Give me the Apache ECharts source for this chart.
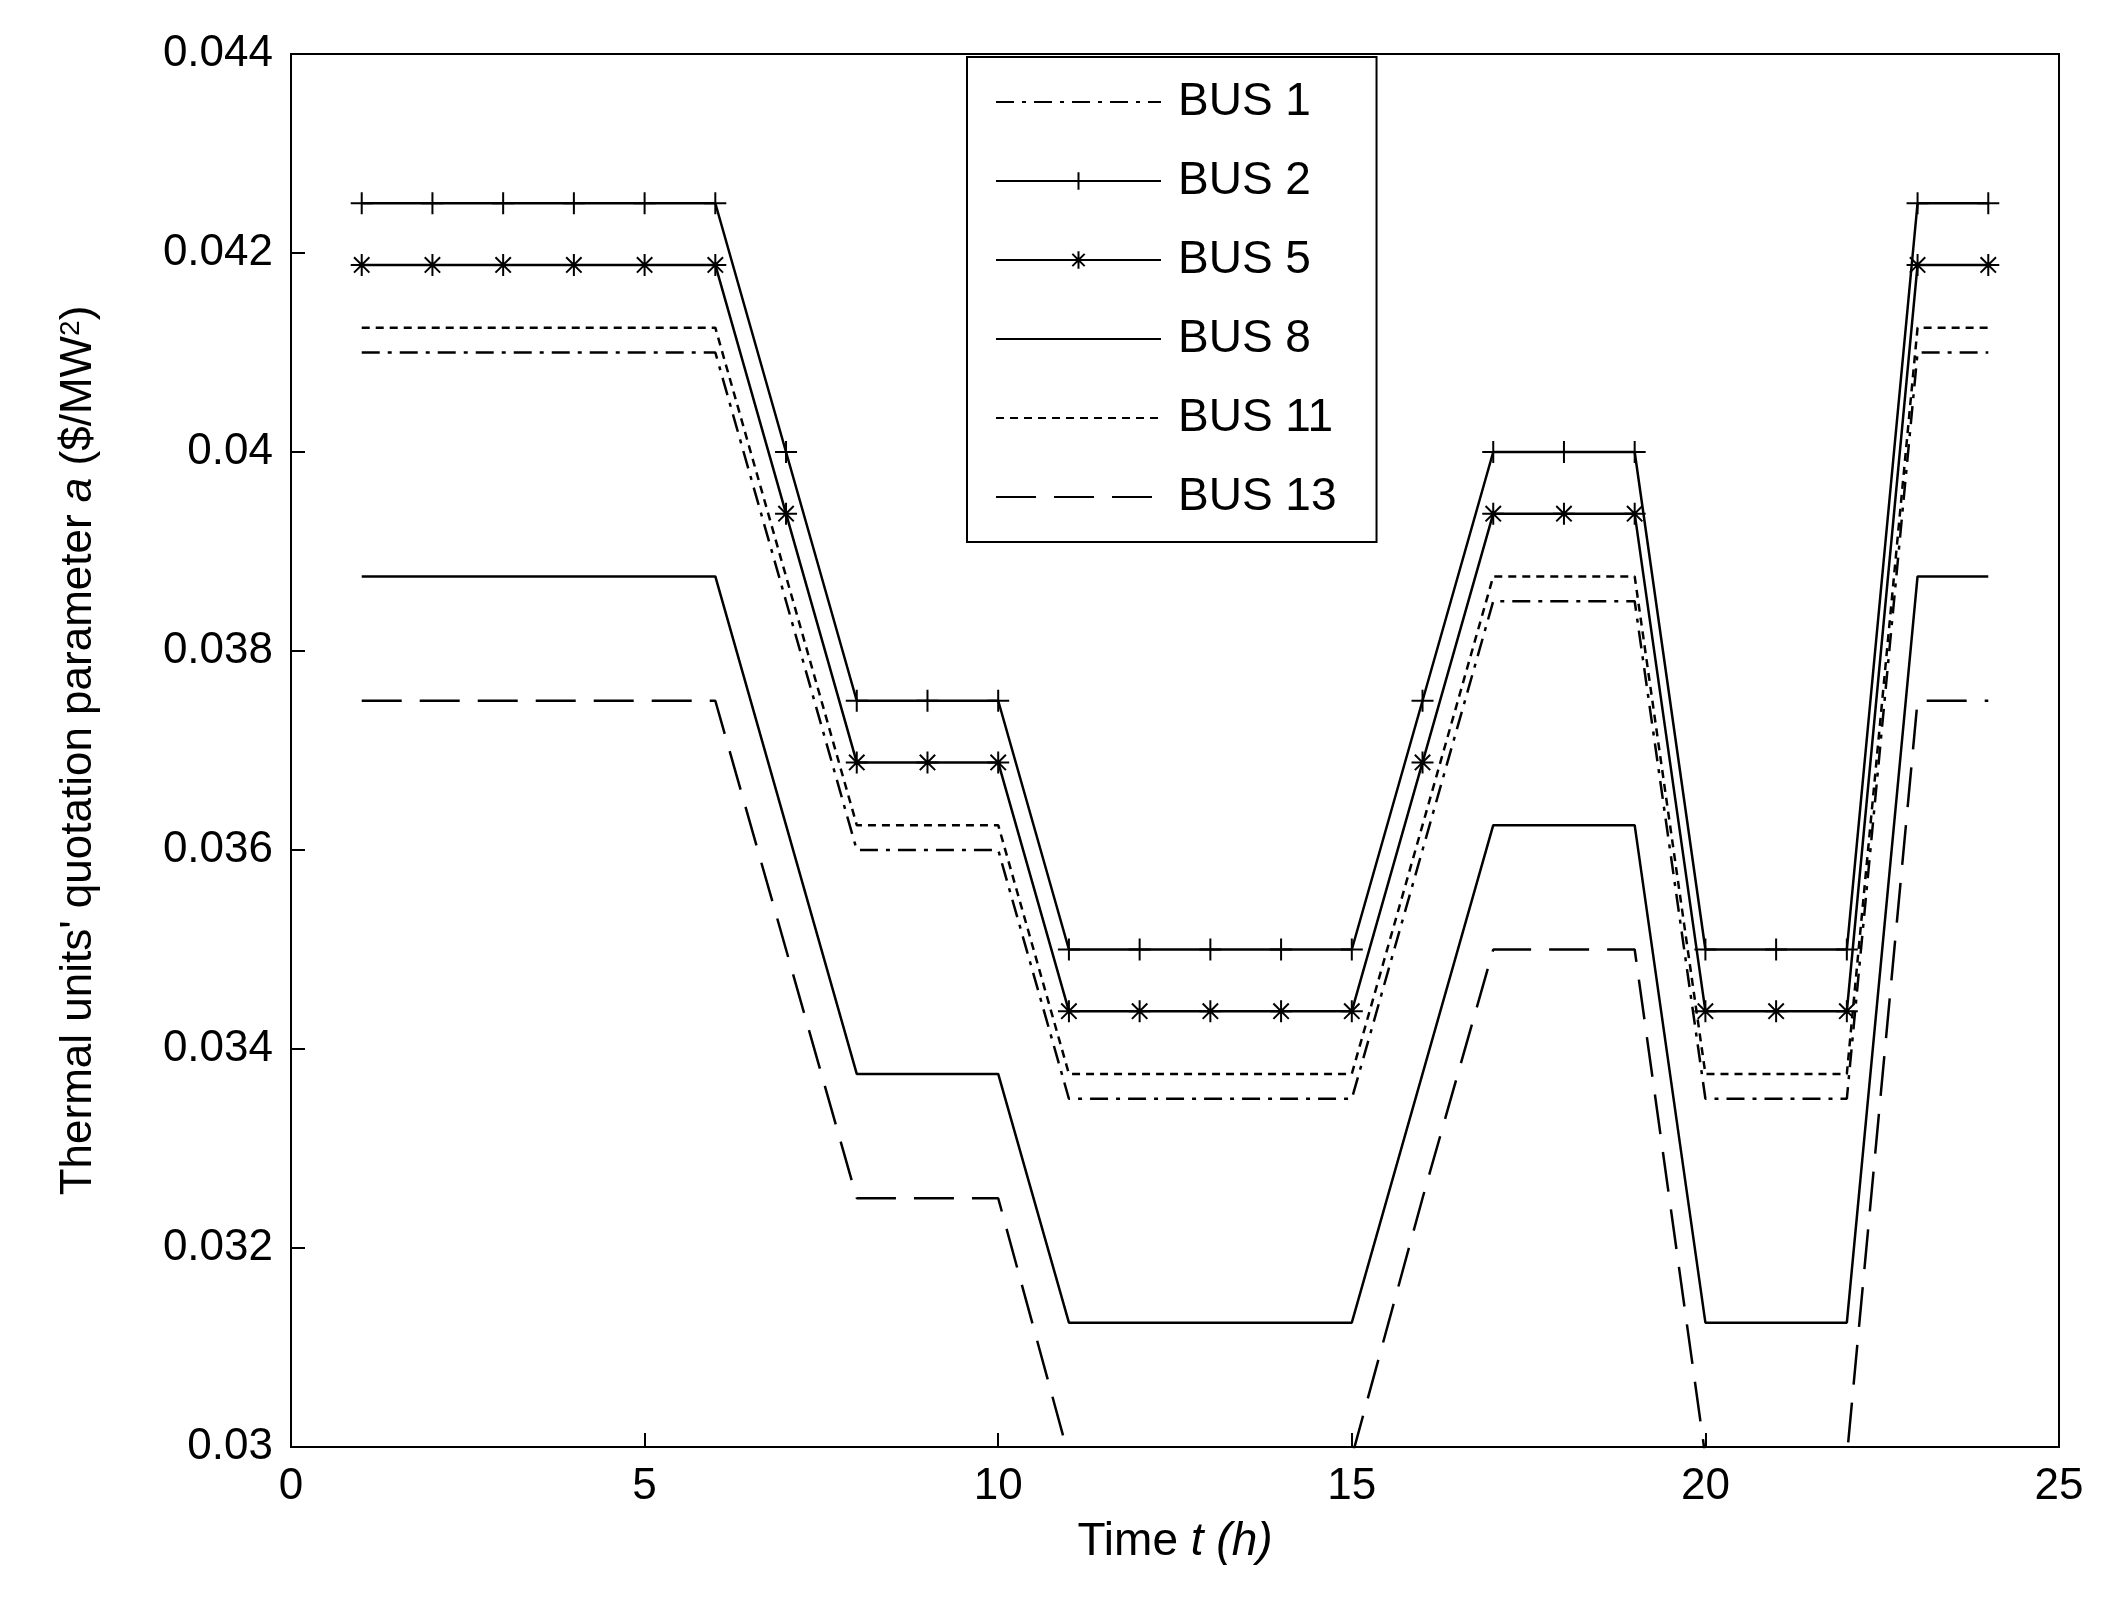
<!DOCTYPE html>
<html>
<head>
<meta charset="utf-8">
<script src="https://cdn.jsdelivr.net/npm/echarts@6/dist/echarts.min.js"></script>
<style>html,body{margin:0;padding:0;background:#fff}#main{width:2113px;height:1618px}</style>
</head>
<body>
<div id="main"></div>
<script>
var hours = [1,2,3,4,5,6,7,8,9,10,11,12,13,14,15,16,17,18,19,20,21,22,23,24];
var bus1  = [0.0410,0.0410,0.0410,0.0410,0.0410,0.0410,0.0385,0.0360,0.0360,0.0360,0.0335,0.0335,0.0335,0.0335,0.0335,0.0360,0.0385,0.0385,0.0385,0.0335,0.0335,0.0335,0.0410,0.0410];
var bus2  = [0.0425,0.0425,0.0425,0.0425,0.0425,0.0425,0.0400,0.0375,0.0375,0.0375,0.0350,0.0350,0.0350,0.0350,0.0350,0.0375,0.0400,0.0400,0.0400,0.0350,0.0350,0.0350,0.0425,0.0425];
var bus5  = [0.04188,0.04188,0.04188,0.04188,0.04188,0.04188,0.03938,0.03688,0.03688,0.03688,0.03438,0.03438,0.03438,0.03438,0.03438,0.03688,0.03938,0.03938,0.03938,0.03438,0.03438,0.03438,0.04188,0.04188];
var bus8  = [0.03875,0.03875,0.03875,0.03875,0.03875,0.03875,0.03625,0.03375,0.03375,0.03375,0.03125,0.03125,0.03125,0.03125,0.03125,0.03375,0.03625,0.03625,0.03625,0.03125,0.03125,0.03125,0.03875,0.03875];
var bus11 = [0.04125,0.04125,0.04125,0.04125,0.04125,0.04125,0.03875,0.03625,0.03625,0.03625,0.03375,0.03375,0.03375,0.03375,0.03375,0.03625,0.03875,0.03875,0.03875,0.03375,0.03375,0.03375,0.04125,0.04125];
var bus13 = [0.0375,0.0375,0.0375,0.0375,0.0375,0.0375,0.0350,0.0325,0.0325,0.0325,0.0299,0.0299,0.0299,0.0299,0.0299,0.0325,0.0350,0.0350,0.0350,0.0299,0.0299,0.0299,0.0375,0.0375];

function pairs(v){ return hours.map(function(h,i){ return [h, v[i]]; }); }
var font = 'Liberation Sans, Arial, sans-serif';
var plus = 'path://M0,-1L0,1M-1,0L1,0';
var star = 'path://M0,-1L0,1M-1,0L1,0M-0.7,-0.7L0.7,0.7M-0.7,0.7L0.7,-0.7';

function mk(name, data, type, symbol){
  return {
    name: name, type: 'line', data: pairs(data),
    symbol: symbol || 'none', symbolSize: 22, showSymbol: !!symbol,
    itemStyle: {color: '#000', borderColor: '#000', borderWidth: 2},
    lineStyle: {color: '#000', width: 2.5, type: type},
    animation: false
  };
}

var myChart = echarts.init(document.getElementById('main'));
var option = {
  backgroundColor: '#fff',
  grid: {left: 291, right: 54, top: 54, bottom: 171, show: true, borderColor: '#000', borderWidth: 2},
  legend: {
    orient: 'vertical', left: 967, top: 57,
    padding: [22, 40, 22, 28], itemGap: 33, itemWidth: 165, itemHeight: 22,
    backgroundColor: '#fff', borderColor: '#000', borderWidth: 2,
    textStyle: {fontFamily: font, fontSize: 46, color: '#000', padding: [0, 0, 0, 12]},
    data: [
      {name: 'BUS 1', itemStyle: {opacity: 0}},
      {name: 'BUS 2'},
      {name: 'BUS 5'},
      {name: 'BUS 8', itemStyle: {opacity: 0}},
      {name: 'BUS 11', itemStyle: {opacity: 0}},
      {name: 'BUS 13', itemStyle: {opacity: 0}}
    ]
  },
  xAxis: {
    type: 'value', min: 0, max: 25, interval: 5,
    name: 'Time {i|t (h)}', nameLocation: 'middle', nameGap: 72,
    nameTextStyle: {fontFamily: font, fontSize: 46, color: '#000', rich: {i: {fontStyle: 'italic', fontFamily: font, fontSize: 46}}},
    axisLine: {lineStyle: {color: '#000', width: 2}},
    axisTick: {inside: true, length: 14, lineStyle: {color: '#000', width: 2}},
    axisLabel: {fontFamily: font, fontSize: 44, color: '#000', margin: 18},
    splitLine: {show: false}
  },
  yAxis: {
    type: 'value', min: 0.030, max: 0.044, interval: 0.002,
    name: "Thermal units' quotation parameter {i|a} ($/MW{s|2})", nameLocation: 'middle', nameGap: 190,
    nameTextStyle: {fontFamily: font, fontSize: 44, color: '#000', rich: {i: {fontStyle: 'italic', fontFamily: font, fontSize: 44}, s: {fontSize: 28, verticalAlign: 'top', fontFamily: font}}},
    axisLine: {lineStyle: {color: '#000', width: 2}},
    axisTick: {inside: true, length: 14, lineStyle: {color: '#000', width: 2}},
    axisLabel: {fontFamily: font, fontSize: 44, color: '#000', margin: 18,
      formatter: function(v){ return parseFloat(v.toFixed(3)).toString(); }},
    splitLine: {show: false}
  },
  series: [
    mk('BUS 1', bus1, [18, 8, 4, 8]),
    mk('BUS 2', bus2, 'solid', plus),
    mk('BUS 5', bus5, 'solid', star),
    mk('BUS 8', bus8, 'solid'),
    mk('BUS 11', bus11, [8, 6]),
    mk('BUS 13', bus13, [40, 18])
  ]
};
myChart.setOption(option);
</script>
</body>
</html>
